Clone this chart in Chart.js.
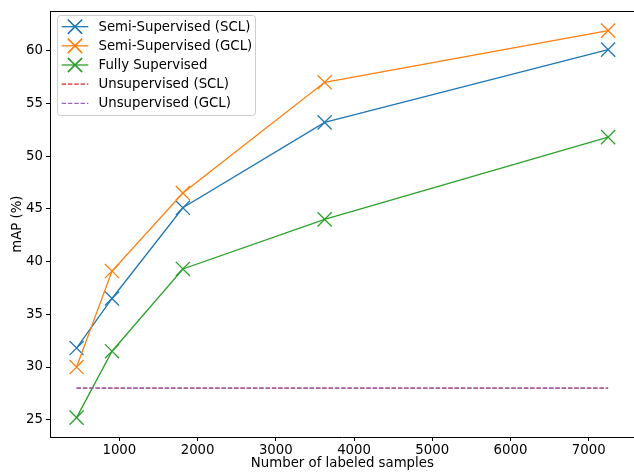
<!DOCTYPE html>
<html>
<head>
<meta charset="utf-8">
<script src="https://cdn.jsdelivr.net/npm/chart.js@4/dist/chart.umd.min.js"></script>
<style>
html,body{margin:0;padding:0;overflow:hidden;background:#fff;width:634px;height:472px;}
canvas{display:block;}
</style>
</head>
<body>
<canvas id="c" width="646" height="472"></canvas>
<script>
// ---- data ----
const samples = [453, 906, 1812, 3624, 7248];
const semiSCL = [31.8, 36.5, 45.1, 53.2, 60.1];
const semiGCL = [30.0, 39.1, 46.5, 57.0, 61.9];
const fully   = [25.2, 31.5, 39.3, 44.0, 51.8];
const unsupSCL = [28.0, 28.0];
const unsupGCL = [28.0, 28.0];
const unsupX = [453, 7248];
const xTicks = [1000, 2000, 3000, 4000, 5000, 6000, 7000];
const yTicks = [25, 30, 35, 40, 45, 50, 55, 60];
const labels = ['Semi-Supervised (SCL)', 'Semi-Supervised (GCL)', 'Fully Supervised', 'Unsupervised (SCL)', 'Unsupervised (GCL)'];

const pts = (xs, ys) => xs.map((x, i) => ({x: x, y: ys[i]}));

const FONT = 'DejaVu Sans';
const FS = 13.3;
Chart.defaults.font.family = FONT;
Chart.defaults.font.size = FS;
Chart.defaults.color = '#000';

const DASH = [4.4, 1.9];
const LW = 1.3;

function mkLine(label, data, color, marker, dash, order) {
  return {
    label: label, data: data,
    borderColor: color, backgroundColor: color,
    borderWidth: LW,
    borderDash: dash || [],
    pointStyle: marker ? 'crossRot' : false,
    pointRadius: marker ? 10 : 0,
    pointHoverRadius: marker ? 10 : 0,
    pointBorderWidth: LW,
    pointBorderColor: color,
    tension: 0, fill: false,
    order: order
  };
}

const datasets = [
  mkLine(labels[0], pts(samples, semiSCL), '#1f77b4', true, null, 5),
  mkLine(labels[1], pts(samples, semiGCL), '#ff7f0e', true, null, 4),
  mkLine(labels[2], pts(samples, fully), '#2ca02c', true, null, 3),
  mkLine(labels[3], pts(unsupX, unsupSCL), '#d62728', false, DASH, 2),
  mkLine(labels[4], pts(unsupX, unsupGCL), '#9467bd', false, DASH, 1)
];

// matplotlib-like 5% margins
const allY = semiSCL.concat(semiGCL, fully, unsupSCL, unsupGCL);
const yMinD = Math.min(...allY), yMaxD = Math.max(...allY);
const xMinD = Math.min(...samples), xMaxD = Math.max(...samples);
const yM = (yMaxD - yMinD) * 0.05, xM = (xMaxD - xMinD) * 0.05;

const framePlugin = {
  id: 'frame',
  afterDatasetsDraw(chart) {
    const ctx = chart.ctx, a = chart.chartArea;
    ctx.save();
    ctx.strokeStyle = '#000';
    ctx.lineWidth = 1;
    ctx.beginPath();
    ctx.moveTo(Math.round(a.left) + 0.5, Math.round(a.top) + 0.5);
    ctx.lineTo(Math.round(a.right) + 0.5, Math.round(a.top) + 0.5);
    ctx.lineTo(Math.round(a.right) + 0.5, Math.round(a.bottom) + 0.5);
    ctx.stroke();
    ctx.restore();

    // legend
    const lx = 57.5, ly = 15.5, lw = 198, lh = 100, r = 3;
    ctx.save();
    ctx.beginPath();
    ctx.moveTo(lx + r, ly);
    ctx.lineTo(lx + lw - r, ly);
    ctx.arcTo(lx + lw, ly, lx + lw, ly + r, r);
    ctx.lineTo(lx + lw, ly + lh - r);
    ctx.arcTo(lx + lw, ly + lh, lx + lw - r, ly + lh, r);
    ctx.lineTo(lx + r, ly + lh);
    ctx.arcTo(lx, ly + lh, lx, ly + lh - r, r);
    ctx.lineTo(lx, ly + r);
    ctx.arcTo(lx, ly, lx + r, ly, r);
    ctx.closePath();
    ctx.fillStyle = 'rgba(255,255,255,0.8)';
    ctx.fill();
    ctx.strokeStyle = '#cccccc';
    ctx.lineWidth = 1;
    ctx.stroke();
    chart.data.datasets.forEach((ds, i) => {
      const y = 26.7 + i * 19.15;
      ctx.strokeStyle = ds.borderColor;
      ctx.lineWidth = LW;
      ctx.setLineDash(ds.borderDash || []);
      ctx.beginPath();
      ctx.moveTo(61.7, y);
      ctx.lineTo(88.3, y);
      ctx.stroke();
      ctx.setLineDash([]);
      if (ds.pointStyle) {
        Chart.helpers.drawPoint(ctx, {pointStyle: ds.pointStyle, radius: ds.pointRadius, borderWidth: LW}, 75, y);
        ctx.stroke();
      }
      ctx.fillStyle = '#000';
      ctx.font = FS + 'px "' + FONT + '"';
      ctx.textBaseline = 'middle';
      ctx.textAlign = 'left';
      ctx.fillText(ds.label, 98.5, y + 0.5);
    });
    ctx.restore();
  }
};

new Chart(document.getElementById('c'), {
  type: 'line',
  data: { datasets: datasets },
  options: {
    responsive: false,
    animation: false,
    events: [],
    layout: { padding: { top: 9, right: 8.5, left: 0, bottom: 0 } },
    plugins: { legend: { display: false }, tooltip: { enabled: false } },
    scales: {
      x: {
        type: 'linear',
        min: xMinD - xM, max: xMaxD + xM,
        afterFit(s) { s.height = 35; },
        afterBuildTicks(s) { s.ticks = xTicks.map(v => ({value: v})); },
        ticks: { includeBounds: false, padding: 2, autoSkip: false, maxRotation: 0, callback: v => String(v) },
        grid: { display: true, drawOnChartArea: false, drawTicks: true, tickLength: 4, color: '#000', lineWidth: 1 },
        border: { display: true, color: '#000', width: 1 },
        title: { display: true, text: 'Number of labeled samples', padding: { top: 0, bottom: 0 } }
      },
      y: {
        type: 'linear',
        min: yMinD - yM, max: yMaxD + yM,
        afterFit(s) { s.width = 50; },
        afterBuildTicks(s) { s.ticks = yTicks.map(v => ({value: v})); },
        ticks: { includeBounds: false, padding: 3, autoSkip: false, callback: v => String(v) },
        grid: { display: true, drawOnChartArea: false, drawTicks: true, tickLength: 4, color: '#000', lineWidth: 1 },
        border: { display: true, color: '#000', width: 1 },
        title: { display: true, text: 'mAP (%)', padding: { top: 9.5, bottom: 0 } }
      }
    }
  },
  plugins: [framePlugin]
});
</script>
</body>
</html>
